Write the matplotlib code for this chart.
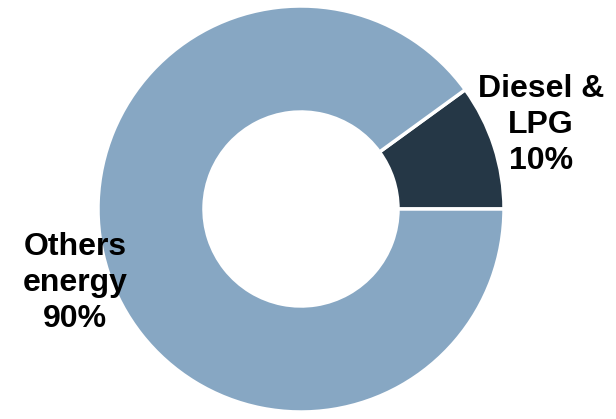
import matplotlib.pyplot as plt

labels = ["Diesel &\nLPG\n10%", "Others\nenergy\n90%"]
shares = [10, 90]
colors = ["#253746", "#87a7c3"]

fig = plt.figure(figsize=(6.16, 4.19), dpi=100)
ax = fig.add_axes([0, 0, 1, 1])

# donut, drawn in pixel-sized units
ax.pie(shares, colors=colors, startangle=0, counterclock=True,
       center=(301, 210), radius=203, frame=True,
       wedgeprops=dict(width=106, edgecolor="white", linewidth=2.5))
ax.set_xlim(0, 616)
ax.set_ylim(0, 419)
ax.set_aspect("equal")
ax.axis("off")

font = dict(family=["Liberation Sans", "DejaVu Sans"], fontsize=23,
            fontweight="bold", ha="center", va="center", linespacing=1.28)
ax.text(541, 294, labels[0], **font)
ax.text(75, 136, labels[1], **font)

fig.savefig("out.png", dpi=100)
